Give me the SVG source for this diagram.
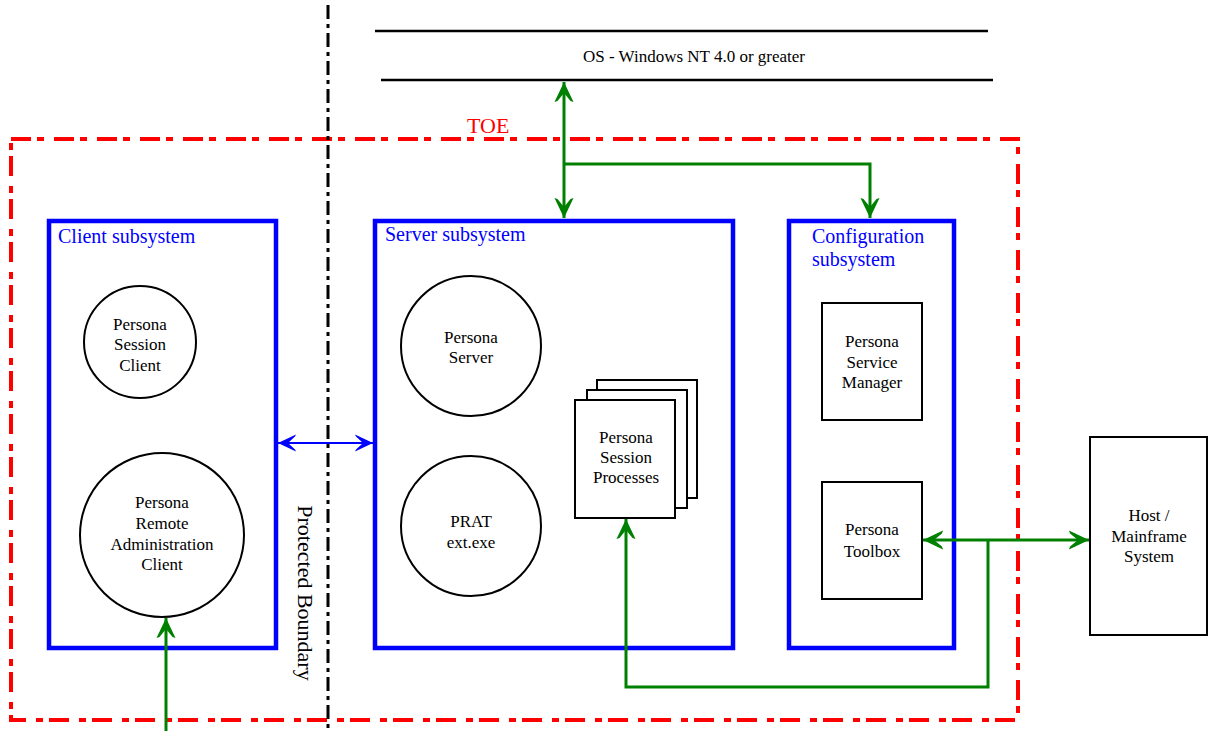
<svg xmlns="http://www.w3.org/2000/svg" width="1208" height="731" viewBox="0 0 1208 731">
<style>
.lbl{font-family:"Liberation Serif","Times New Roman",serif;font-size:17px;fill:#000;text-anchor:middle}
.blue{font-family:"Liberation Serif","Times New Roman",serif;font-size:20px;fill:#0000ff}
.sub{fill:none;stroke:#0000ff;stroke-width:4.5}
.node{fill:#fff;stroke:#000;stroke-width:2}
.g{fill:none;stroke:#008000;stroke-width:3}
</style>
<defs>
<marker id="ag" viewBox="-22 -12 24 24" markerWidth="24" markerHeight="24" refX="0" refY="0" orient="auto-start-reverse" markerUnits="userSpaceOnUse">
<path d="M0,0 L-20,-9.5 L-19,-6.5 L-11,0 L-19,6.5 L-20,9.5 Z" fill="#008000"/>
</marker>
<marker id="ab" viewBox="-22 -12 24 24" markerWidth="24" markerHeight="24" refX="0" refY="0" orient="auto-start-reverse" markerUnits="userSpaceOnUse">
<path d="M0,0 L-18,-8.5 L-17,-6.5 L-10,0 L-17,6.5 L-18,8.5 Z" fill="#0000ff"/>
</marker>
</defs>
<rect width="1208" height="731" fill="#fff"/>

<g id="os">
<line x1="375" y1="31" x2="988" y2="31" stroke="#000" stroke-width="2.5"/>
<line x1="381" y1="80" x2="993" y2="80" stroke="#000" stroke-width="2.5"/>
<text x="694" y="62" class="lbl">OS - Windows NT 4.0 or greater</text>
</g>

<g id="toe">
<rect x="11" y="139" width="1007" height="581" fill="none" stroke="#ff0000" stroke-width="4" stroke-dasharray="20 6 7 10"/>
<text x="467" y="133" font-family="Liberation Serif, Times New Roman, serif" font-size="22" fill="#ff0000">TOE</text>
</g>

<g id="boundary">
<line x1="328" y1="5" x2="328" y2="731" stroke="#000" stroke-width="3" stroke-dasharray="14 5 4 5"/>
<text x="298" y="593" transform="rotate(90 298 593)" font-family="Liberation Serif, Times New Roman, serif" font-size="22" fill="#000" text-anchor="middle">Protected Boundary</text>
</g>

<g id="client-subsystem">
<rect x="49" y="221" width="227" height="427" class="sub"/>
<text x="58" y="243" class="blue">Client subsystem</text>
</g>
<g id="server-subsystem">
<rect x="375" y="221" width="358" height="427" class="sub"/>
<text x="385" y="241" class="blue">Server subsystem</text>
</g>
<g id="config-subsystem">
<rect x="789" y="221" width="165" height="427" class="sub"/>
<text x="812" y="243" class="blue">Configuration</text>
<text x="812" y="266" class="blue">subsystem</text>
</g>

<g id="session-client">
<circle cx="140" cy="342" r="56" class="node"/>
<text class="lbl"><tspan x="140" y="330">Persona</tspan><tspan x="140" y="350">Session</tspan><tspan x="140" y="371">Client</tspan></text>
</g>
<g id="remote-admin-client">
<circle cx="162" cy="535" r="82" class="node"/>
<text class="lbl"><tspan x="162" y="508">Persona</tspan><tspan x="162" y="529">Remote</tspan><tspan x="162" y="550">Administration</tspan><tspan x="162" y="570">Client</tspan></text>
</g>
<g id="persona-server">
<circle cx="471" cy="346" r="70" class="node"/>
<text class="lbl"><tspan x="471" y="343">Persona</tspan><tspan x="471" y="363">Server</tspan></text>
</g>
<g id="prat">
<circle cx="471" cy="526" r="70" class="node"/>
<text class="lbl"><tspan x="471" y="527">PRAT</tspan><tspan x="471" y="548">ext.exe</tspan></text>
</g>
<g id="session-processes">
<rect x="597" y="380" width="100" height="118" class="node"/>
<rect x="587" y="390" width="100" height="118" class="node"/>
<rect x="575" y="400" width="100" height="118" class="node"/>
<text class="lbl"><tspan x="626" y="443">Persona</tspan><tspan x="626" y="463">Session</tspan><tspan x="626" y="483">Processes</tspan></text>
</g>
<g id="service-manager">
<rect x="822" y="303" width="100" height="117" class="node"/>
<text class="lbl"><tspan x="872" y="347">Persona</tspan><tspan x="872" y="368">Service</tspan><tspan x="872" y="388">Manager</tspan></text>
</g>
<g id="toolbox">
<rect x="822" y="482" width="100" height="117" class="node"/>
<text class="lbl"><tspan x="872" y="535">Persona</tspan><tspan x="872" y="557">Toolbox</tspan></text>
</g>
<g id="host">
<rect x="1090" y="437" width="117" height="198" class="node"/>
<text class="lbl"><tspan x="1149" y="521">Host /</tspan><tspan x="1149" y="542">Mainframe</tspan><tspan x="1149" y="562">System</tspan></text>
</g>

<g id="connectors">
<path d="M564,82 V218" class="g" marker-start="url(#ag)" marker-end="url(#ag)"/>
<path d="M564,164 H870 V218" class="g" marker-end="url(#ag)"/>
<path d="M166,731 V618" class="g" marker-end="url(#ag)"/>
<path d="M923,540 H1089" class="g" marker-start="url(#ag)" marker-end="url(#ag)"/>
<path d="M988,540 V687 H626 V519" class="g" marker-end="url(#ag)"/>
<path d="M278,443 H373" fill="none" stroke="#0000ff" stroke-width="2" marker-start="url(#ab)" marker-end="url(#ab)"/>
</g>
</svg>
